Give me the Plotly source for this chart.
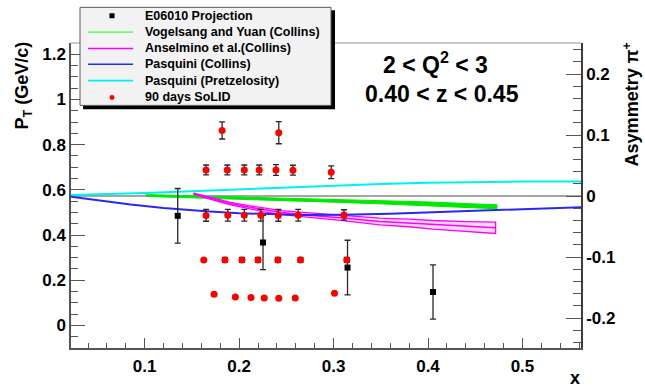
import plotly.graph_objects as go

# ---------------- data ----------------
# E06010 projection (x, P_T, error)
e06_x = [0.135, 0.2253, 0.3148, 0.4053]
e06_pt = [0.485, 0.367, 0.256, 0.148]
e06_err = [0.121, 0.120, 0.121, 0.120]

# 90 days SoLID (x, P_T, error)
solid_x = [0.182, 0.242,
           0.165, 0.1875, 0.2055, 0.2213, 0.239, 0.257, 0.2975,
           0.165, 0.188, 0.2055, 0.223, 0.2415, 0.2626, 0.311,
           0.1626, 0.185, 0.203, 0.220, 0.241, 0.265, 0.314,
           0.1735, 0.196, 0.2126, 0.2266, 0.242, 0.2594, 0.301]
solid_pt = [0.863, 0.853,
            0.688, 0.688, 0.688, 0.688, 0.688, 0.687, 0.678,
            0.487, 0.488, 0.488, 0.488, 0.487, 0.488, 0.489,
            0.290, 0.290, 0.290, 0.290, 0.290, 0.290, 0.290,
            0.138, 0.126, 0.123, 0.121, 0.120, 0.121, 0.142]
solid_err = [0.038, 0.049,
             0.022, 0.022, 0.022, 0.022, 0.024, 0.022, 0.028,
             0.026, 0.026, 0.026, 0.026, 0.026, 0.026, 0.023,
             0.004, 0.011, 0.011, 0.011, 0.011, 0.011, 0.011,
             0.0, 0.0, 0.0, 0.0, 0.0, 0.0, 0.0]

# Vogelsang and Yuan (Collins) band (asymmetry)
vy_x = [0.1015, 0.15, 0.2, 0.25, 0.3, 0.35, 0.4, 0.45, 0.473]
vy_hi = [0.0025, 0.0007, -0.0015, -0.0033, -0.005, -0.0073, -0.0095, -0.0128, -0.0142]
vy_lo = [-0.0005, -0.0027, -0.0055, -0.0077, -0.010, -0.0127, -0.0155, -0.0192, -0.0208]

# Anselmino et al. (Collins) band (asymmetry)
an_x = [0.152, 0.17, 0.19, 0.21, 0.2256, 0.245, 0.264, 0.29, 0.31, 0.349, 0.38, 0.405, 0.44, 0.4716]
an_mid = [0.004, -0.004, -0.012, -0.018, -0.0225, -0.027, -0.030, -0.033, -0.036, -0.0415, -0.044, -0.047, -0.050, -0.052]
an_hi = [0.005, -0.0025, -0.010, -0.0155, -0.0197, -0.0238, -0.0264, -0.029, -0.0317, -0.036, -0.0378, -0.040, -0.0418, -0.0427]
an_lo = [0.003, -0.0055, -0.014, -0.0205, -0.0253, -0.0302, -0.0336, -0.037, -0.0403, -0.047, -0.0502, -0.054, -0.0582, -0.0613]

# Pasquini (Collins) (asymmetry)
pc_x = [0.022, 0.05, 0.085, 0.12, 0.165, 0.2, 0.23, 0.265, 0.31, 0.36, 0.405, 0.44, 0.472, 0.51, 0.539, 0.562]
pc_a = [-0.001, -0.007, -0.0138, -0.0195, -0.025, -0.028, -0.0298, -0.0308, -0.0305, -0.029,
        -0.0264, -0.0246, -0.0227, -0.0208, -0.0194, -0.0182]

# Pasquini (Pretzelosity) (asymmetry)
pp_x = [0.022, 0.06, 0.1, 0.15, 0.2, 0.25, 0.3, 0.35, 0.4, 0.45, 0.5, 0.562]
pp_a = [0.002, 0.003, 0.005, 0.008, 0.011, 0.0145, 0.0175, 0.020, 0.022, 0.0235, 0.024, 0.024]

legend_labels = ["E06010 Projection", "Vogelsang and Yuan (Collins)", "Anselmino et al.(Collins)",
                 "Pasquini (Collins)", "Pasquini (Pretzelosity)", "90 days SoLID"]

x_range = [0.022, 0.562]
pt_range = [-0.1, 1.25]
asym_range = [-0.249, 0.251]
asym_tickvals = [-0.2, -0.1, 0, 0.1, 0.2]
asym_ticktext = ["-0.2", "-0.1", "0", "0.1", "0.2"]

# ---------------- colours ----------------
C_GREEN = "rgb(0,232,0)"
C_MAG = "rgb(255,0,255)"
C_BLUE = "rgb(40,40,245)"
C_CYAN = "rgb(0,240,240)"
C_RED = "rgb(255,0,0)"
FONT = "Liberation Sans"

fig = go.Figure()

# curves on the asymmetry axis (main y, right side)
fig.add_trace(go.Scatter(x=pp_x, y=pp_a, mode="lines", line=dict(color=C_CYAN, width=2),
                         showlegend=False, hoverinfo="skip", yaxis="y"))
fig.add_trace(go.Scatter(x=vy_x + vy_x[::-1], y=vy_hi + vy_lo[::-1], mode="lines", fill="toself",
                         fillcolor=C_GREEN, line=dict(color=C_GREEN, width=1),
                         showlegend=False, hoverinfo="skip", yaxis="y"))
fig.add_trace(go.Scatter(x=an_x + an_x[::-1] + an_x[:1], y=an_hi + an_lo[::-1] + an_hi[:1], mode="lines",
                         fill="toself", fillcolor="rgba(255,0,255,0.15)",
                         line=dict(color=C_MAG, width=1.3),
                         showlegend=False, hoverinfo="skip", yaxis="y"))
fig.add_trace(go.Scatter(x=an_x, y=an_mid, mode="lines", line=dict(color=C_MAG, width=1.5),
                         showlegend=False, hoverinfo="skip", yaxis="y"))
fig.add_trace(go.Scatter(x=pc_x, y=pc_a, mode="lines", line=dict(color=C_BLUE, width=2),
                         showlegend=False, hoverinfo="skip", yaxis="y"))

# points on the P_T axis (overlaying, left side)
fig.add_trace(go.Scatter(x=e06_x, y=e06_pt, mode="markers",
                         marker=dict(symbol="square", size=6, color="black"),
                         error_y=dict(type="data", array=e06_err, color="rgb(40,40,40)", thickness=1.3, width=3),
                         showlegend=False, hoverinfo="skip", yaxis="y2"))
fig.add_trace(go.Scatter(x=solid_x, y=solid_pt, mode="markers",
                         marker=dict(symbol="circle", size=7, color=C_RED),
                         error_y=dict(type="data", array=solid_err, color="rgb(40,40,40)", thickness=1.3, width=3),
                         showlegend=False, hoverinfo="skip", yaxis="y2"))

tickfont = dict(family=FONT, size=17, color="black", weight="bold")
AX = "rgb(85,85,85)"

fig.update_layout(
    width=645, height=388,
    margin=dict(l=71, r=64, t=43, b=37),
    paper_bgcolor="white", plot_bgcolor="white",
    showlegend=False,
    xaxis=dict(range=x_range, tick0=0, dtick=0.1, ticks="inside", ticklen=10, tickcolor=AX,
               showline=True, linecolor=AX, linewidth=1.5, showgrid=False, zeroline=False,
               tickfont=tickfont, ticklabelstandoff=2,
               minor=dict(dtick=0.02, ticks="inside", ticklen=5, tickcolor=AX)),
    yaxis=dict(range=asym_range, side="right", tickmode="array", tickvals=asym_tickvals,
               ticktext=asym_ticktext, ticks="inside", ticklen=15, tickcolor=AX,
               showline=True, linecolor="rgb(60,60,60)", linewidth=1.5, showgrid=False,
               zeroline=True, zerolinecolor="rgb(165,165,165)", zerolinewidth=1.5,
               tickfont=tickfont,
               minor=dict(tickmode="linear", tick0=0, dtick=0.02, ticks="inside", ticklen=8, tickcolor=AX)),
    yaxis2=dict(range=pt_range, side="left", overlaying="y", anchor="x", tick0=0, dtick=0.2,
                ticks="inside", ticklen=14, tickcolor=AX, showline=True, linecolor=AX, linewidth=1.5,
                showgrid=False, zeroline=False, tickfont=tickfont,
                minor=dict(dtick=0.05, ticks="inside", ticklen=7, tickcolor=AX)),
)

# pixel -> paper helpers
def px(x):
    return (x - 71) / 510.0


def py(y):
    return (351 - y) / 308.0


shapes = []
# top frame line
shapes.append(dict(type="line", xref="paper", yref="paper", x0=0, x1=1, y0=1, y1=1,
                   line=dict(color="rgb(150,150,150)", width=1.2), layer="above"))
# legend shadow and box
shapes.append(dict(type="rect", xref="paper", yref="paper", x0=px(83), x1=px(335), y0=py(110), y1=py(10),
                   fillcolor="black", line=dict(width=0), layer="above"))
shapes.append(dict(type="rect", xref="paper", yref="paper", x0=px(80), x1=px(331), y0=py(106), y1=py(7),
                   fillcolor="rgb(242,242,242)", line=dict(color="rgb(90,90,90)", width=1), layer="above"))

rows = [15.5, 32, 48.5, 64.5, 81, 98]
line_cols = [None, "rgb(110,255,110)", C_MAG, C_BLUE, C_CYAN, None]
for i, lab in enumerate(legend_labels):
    yy = rows[i]
    if i == 0:
        shapes.append(dict(type="rect", xref="paper", yref="paper", x0=px(109.5), x1=px(114.5),
                           y0=py(yy + 2.5), y1=py(yy - 2.5), fillcolor="black", line=dict(width=0),
                           layer="above"))
    elif i == 5:
        shapes.append(dict(type="circle", xref="paper", yref="paper", x0=px(109.5), x1=px(114.5),
                           y0=py(yy + 2.5), y1=py(yy - 2.5), fillcolor=C_RED, line=dict(width=0),
                           layer="above"))
    else:
        shapes.append(dict(type="line", xref="paper", yref="paper", x0=px(88), x1=px(133),
                           y0=py(yy), y1=py(yy), line=dict(color=line_cols[i], width=1.6), layer="above"))
    fig.add_annotation(xref="paper", yref="paper", x=px(143), y=py(yy), text=lab, showarrow=False,
                       xanchor="left", yanchor="middle",
                       font=dict(family=FONT, size=12.5, color="black", weight="bold"))

fig.update_layout(shapes=shapes)

# axis titles and kinematic labels
fig.add_annotation(xref="paper", yref="paper", x=px(24), y=py(86), text="P<sub>T</sub> (GeV/c)",
                   textangle=-90, showarrow=False, xanchor="center", yanchor="middle",
                   font=dict(family=FONT, size=18, color="black", weight="bold"))
fig.add_annotation(xref="paper", yref="paper", x=px(631), y=py(105), text="Asymmetry π<sup>+</sup>",
                   textangle=-90, showarrow=False, xanchor="center", yanchor="middle",
                   font=dict(family=FONT, size=18, color="black", weight="bold"))
fig.add_annotation(xref="paper", yref="paper", x=px(575), y=py(381), text="x",
                   showarrow=False, xanchor="center", yanchor="middle",
                   font=dict(family=FONT, size=18, color="black", weight="bold"))
fig.add_annotation(xref="paper", yref="paper", x=px(435), y=py(63), text="2 &lt; Q<sup>2</sup> &lt; 3",
                   showarrow=False, xanchor="center", yanchor="middle",
                   font=dict(family=FONT, size=23, color="black", weight="bold"))
fig.add_annotation(xref="paper", yref="paper", x=px(442), y=py(95), text="0.40 &lt; z &lt; 0.45",
                   showarrow=False, xanchor="center", yanchor="middle",
                   font=dict(family=FONT, size=23, color="black", weight="bold"))

fig.write_html("out.html")
